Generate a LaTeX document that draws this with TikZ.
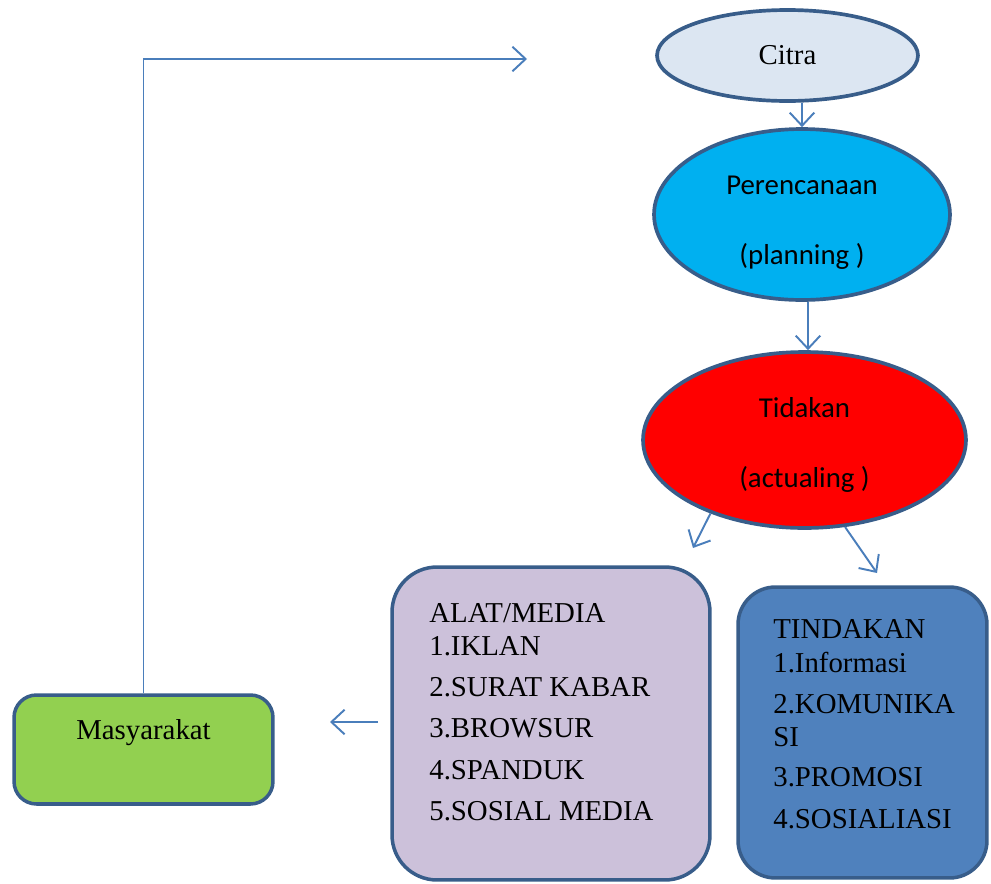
\documentclass[tikz,border=0pt]{standalone}
\usepackage{fontspec}
\setmainfont{Liberation Serif}
\newfontfamily\calibri{Carlito}
\usetikzlibrary{shapes.geometric, arrows.meta, positioning}
\definecolor{borderblue}{HTML}{385D8A}
\definecolor{linkblue}{HTML}{4A7EBB}
\definecolor{citrafill}{HTML}{DCE6F2}
\definecolor{skyfill}{HTML}{00B0F0}
\definecolor{mediafill}{HTML}{CCC1DA}
\definecolor{actfill}{HTML}{4F81BD}
\definecolor{greenfill}{HTML}{92D050}
\newcommand{\bigtext}{\fontsize{16.4}{18.7}\selectfont}

\begin{document}
\begin{tikzpicture}[x=0.02cm, y=-0.02cm,
    stage/.style={ellipse, draw=borderblue, line width=2.1pt, inner sep=0pt,
                  align=center, font=\calibri\bigtext},
    card/.style={rectangle, draw=borderblue, line width=2pt, inner sep=0pt},
    itemlist/.style={anchor=north west, inner sep=0pt, align=left, font=\bigtext},
    arrow/.style={-{Straight Barb[length=7.5pt, width=14pt]}, linkblue, line width=1.1pt}]

    \useasboundingbox (0,0) rectangle (991,883);

    \node[stage, fill=citrafill, minimum width=5.22cm, minimum height=1.82cm,
          font=\bigtext] (citra) at (787.5,55.5) {Citra};
    \node[stage, fill=skyfill, minimum width=5.92cm, minimum height=3.42cm]
          (plan) at (802,214.5) {\rule{0pt}{20pt}Perencanaan\\[21pt](planning )};
    \node[stage, fill=red, minimum width=6.46cm, minimum height=3.52cm]
          (act) at (804.5,440) {\rule{0pt}{17pt}Tidakan\\[21pt](actualing )};

    \node[card, fill=mediafill, rounded corners=0.9cm, minimum width=6.36cm,
          minimum height=6.26cm] (media) at (551,723.5) {};
    \node[card, fill=actfill, rounded corners=0.75cm, minimum width=4.98cm,
          minimum height=5.82cm] (tindak) at (862.5,732.5) {};
    \node[card, fill=greenfill, rounded corners=0.45cm, minimum width=5.18cm,
          minimum height=2.18cm] (masy) at (143.5,749.5) {};

    \node[itemlist] (medialist) at (429,603) {ALAT/MEDIA\\1.IKLAN\\[4.8pt]2.SURAT KABAR\\[4.8pt]3.BROWSUR\\[4.8pt]4.SPANDUK\\[4.8pt]5.SOSIAL MEDIA};
    \node[itemlist] (tindaklist) at (773,619) {TINDAKAN\\[1pt]1.Informasi\\[4.5pt]2.KOMUNIKA\\SI\\[4pt]3.PROMOSI\\[5pt]4.SOSIALIASI};
    \node[anchor=base, inner sep=0pt, font=\bigtext] (masytext) at (143.5,739) {Masyarakat};

    % free ends of the arrows
    \coordinate (toMedia) at (693,548);
    \coordinate (toTindak) at (877,573);
    \coordinate (fromMedia) at (378,722);
    \coordinate (toMasy) at (330,722);
    \coordinate (loopEnd) at (527,59);

    \draw[arrow] (citra.south -| plan.north) -- (plan.north);
    \draw[arrow] ([xshift=0.12cm]plan.south) -- ([xshift=0.12cm]plan.south |- act.north);
    \draw[arrow] (act.218) -- (toMedia);
    \draw[arrow] (act.-65) -- (toTindak);
    \draw[arrow] (fromMedia) -- (toMasy);
    \draw[arrow] (masy.north) |- (loopEnd);
\end{tikzpicture}
\end{document}
